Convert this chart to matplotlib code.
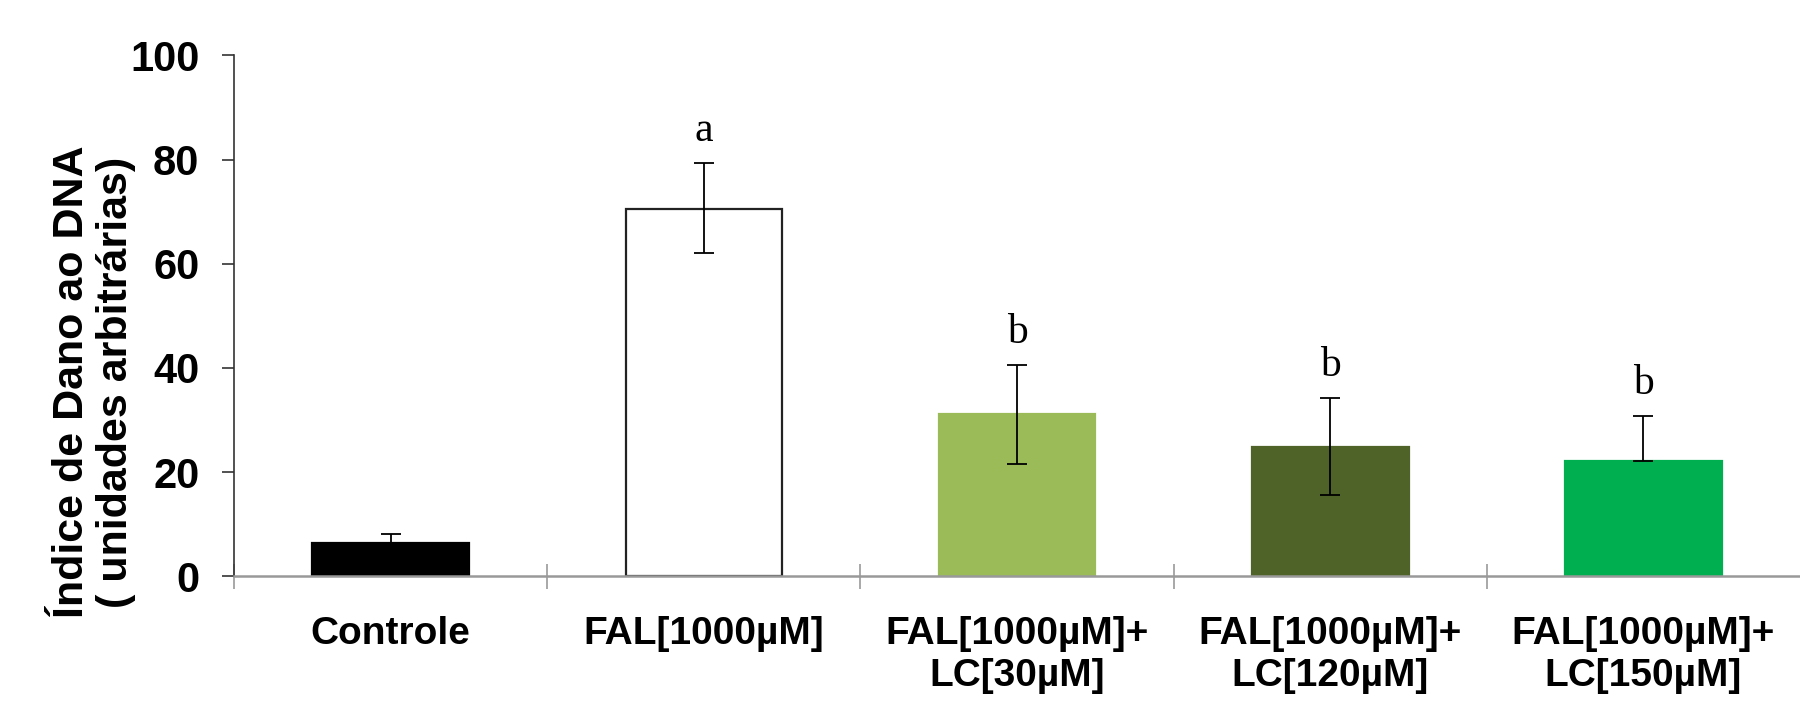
import matplotlib
matplotlib.use("Agg")
import matplotlib.pyplot as plt
import numpy as np

categories = ["Controle", "FAL[1000µM]", "FAL[1000µM]+\nLC[30µM]",
              "FAL[1000µM]+\nLC[120µM]", "FAL[1000µM]+\nLC[150µM]"]
means = [6.4, 70.5, 31.1, 24.9, 22.2]
err_low = [0, 8.5, 9.5, 9.4, 0]
err_high = [1.8, 8.8, 9.4, 9.3, 8.6]
letters = ["", "a", "b", "b", "b"]
colors = ["#000000", "#ffffff", "#9bbb59", "#4f6228", "#00b050"]
edges = ["#000000", "#222222", "#9bbb59", "#4f6228", "#00b050"]
yticks = [0, 20, 40, 60, 80, 100]

fig = plt.figure(figsize=(18, 7.01), dpi=100)
ax = fig.add_axes([0.13, 0.178, 0.87, 0.743])

x = np.arange(len(categories))
ax.bar(x, means, width=0.5, color=colors, edgecolor=edges, linewidth=1.6, zorder=2)
ax.errorbar(x, means, yerr=[err_low, err_high], fmt="none", ecolor="black",
            elinewidth=1.3, capsize=7.5, capthick=1.3, zorder=3)

for xi, m, e, t in zip(x, means, err_high, letters):
    if t:
        ax.text(xi, m + e + 2.5, t, ha="center", va="bottom",
                fontsize=30, family="Liberation Serif")

ax.set_xlim(-0.5, 4.5)
ax.set_ylim(0, 100)
ax.set_yticks(yticks)
ax.set_yticklabels([str(v) for v in yticks], fontsize=30, fontweight="bold",
                   family="Liberation Sans")
ax.tick_params(axis="y", length=9, width=1.2, color="#333333", pad=16)

ax.set_xticks(x)
ax.set_xticklabels(categories, fontsize=28, fontweight="bold",
                   family="Liberation Sans", linespacing=1.18)
ax.tick_params(axis="x", which="major", length=0, pad=29)
ax.set_xticks(np.arange(-0.5, 4.0, 1.0), minor=True)
ax.tick_params(axis="x", which="minor", length=18, width=1.2, color="#999999",
               direction="inout")

for side in ["top", "right"]:
    ax.spines[side].set_visible(False)
ax.spines["left"].set_color("#333333")
ax.spines["left"].set_linewidth(1.2)
ax.spines["bottom"].set_color("#999999")
ax.spines["bottom"].set_linewidth(1.8)

fig.text(94 / 1800, 1 - 382 / 701, "Índice de Dano ao DNA\n( unidades arbitrárias)",
         rotation=90, ha="center", va="center", fontsize=31, fontweight="bold",
         family="Liberation Sans", linespacing=1.1)

fig.savefig("out.png", dpi=100)
